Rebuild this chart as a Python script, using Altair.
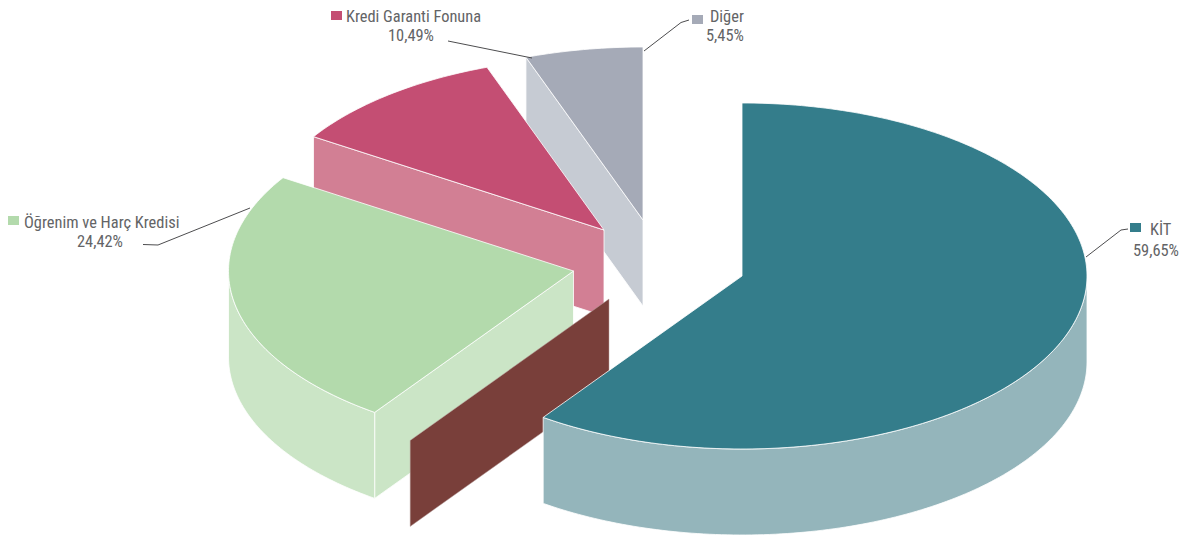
import math
import altair as alt
import pandas as pd

names = ["KİT", "Öğrenim ve Harç Kredisi", "Kredi Garanti Fonuna", "Diğer"]
labels = ["59,65%", "24,42%", "10,49%", "5,45%"]
shares = [59.65, 24.42, 10.49, 5.45]
top_colors = ["#347D8B", "#B3DAAC", "#C44E73", "#A5AAB7"]
wall_colors = ["#94B5BB", "#CBE5C6", "#D27F94", "#C6CBD3"]
cut_color = "#793F3A"
text_color = "#636466"
leader_color = "#4D4D4F"

# projected pie layout (ellipse radii, extrusion depth, slice apex positions)
RX, RY, DEPTH = 345, 173, 86
apex = [(742, 276), (573.5, 271), (604, 230), (643, 220)]
cut_offset = (-133, 23)
first_cut_tweak = 0.45
third_cut_tweak = -0.25

X = alt.Scale(domain=[8, 1182], range=[0, 1174], nice=False, zero=False)
Y = alt.Scale(domain=[8, 535], range=[0, 527], nice=False, zero=False)


def rim(i, a0, a1, dy=0):
    n = max(2, int(abs(a1 - a0)) + 1)
    cx, cy = apex[i]
    pts = []
    for k in range(n + 1):
        a = math.radians(a0 + (a1 - a0) * k / n)
        pts.append((cx + RX * math.sin(a), cy - RY * math.cos(a) + dy))
    return pts


def shape(pts, fill, stroke="white", sw=0.8):
    pts = list(pts) + [pts[0]]
    df = pd.DataFrame({"x": [p[0] for p in pts], "y": [p[1] for p in pts], "o": range(len(pts))})
    return alt.Chart(df).mark_line(fill=fill, stroke=stroke, strokeWidth=sw, strokeJoin="round").encode(
        x=alt.X("x:Q", scale=X, axis=None),
        y=alt.Y("y:Q", scale=Y, axis=None),
        order="o:Q",
    )


def polyline(pts):
    df = pd.DataFrame({"x": [p[0] for p in pts], "y": [p[1] for p in pts], "o": range(len(pts))})
    return alt.Chart(df).mark_line(stroke=leader_color, strokeWidth=1).encode(
        x=alt.X("x:Q", scale=X, axis=None),
        y=alt.Y("y:Q", scale=Y, axis=None),
        order="o:Q",
    )


starts, a = [], 0.0
for s in shares:
    starts.append(a)
    a += 360 * s / 100
starts[1] += first_cut_tweak
starts[3] += third_cut_tweak
ends = starts[1:] + [360.0]


def cut_face(i, angle, off=(0, 0)):
    cx, cy = apex[i]
    r = math.radians(angle)
    ex, ey = cx + RX * math.sin(r), cy - RY * math.cos(r)
    return [(cx + off[0], cy + off[1]), (ex + off[0], ey + off[1]),
            (ex + off[0], ey + off[1] + DEPTH), (cx + off[0], cy + off[1] + DEPTH)]


def top(i):
    return [apex[i]] + rim(i, starts[i], ends[i])


def wall(i, a0, a1):
    return rim(i, a0, a1) + rim(i, a1, a0, DEPTH)


layers = [
    # Diğer
    shape(cut_face(3, starts[3]), wall_colors[3]),
    shape(top(3), top_colors[3]),
    # Kredi Garanti Fonuna
    shape(cut_face(2, starts[2]), wall_colors[2]),
    shape(top(2), top_colors[2]),
    # Öğrenim ve Harç Kredisi
    shape(cut_face(1, starts[1]), wall_colors[1]),
    shape(wall(1, starts[1], 270), wall_colors[1]),
    shape(top(1), top_colors[1]),
    # displaced cut face of KİT
    shape(cut_face(0, ends[0], cut_offset), cut_color, stroke="#B9A09E", sw=0.5),
    # KİT
    shape(wall(0, 90, ends[0]), wall_colors[0]),
    shape(top(0), top_colors[0]),
    # leaders
    polyline([(1086, 257), (1121, 230), (1128, 229)]),
    polyline([(250, 208), (158, 245), (143, 244.5)]),
    polyline([(448, 41), (532, 58)]),
    polyline([(644, 51), (681, 22.5), (689, 20)]),
]

swatches = pd.DataFrame({
    "x": [1130, 8, 331, 692], "x2": [1141, 19, 342, 703],
    "y": [223, 216, 11, 15], "y2": [232, 225, 20, 24],
    "c": top_colors,
})
layers.append(alt.Chart(swatches).mark_rect().encode(
    x=alt.X("x:Q", scale=X, axis=None), x2="x2:Q",
    y=alt.Y("y:Q", scale=Y, axis=None), y2="y2:Q",
    color=alt.Color("c:N", scale=None),
))

texts = pd.DataFrame({
    "x": [1150, 1133, 24, 77, 346, 388, 710, 706],
    "y": [235, 256, 228, 247, 22, 41, 22, 41],
    "t": [names[0], labels[0], names[1], labels[1], names[2], labels[2], names[3], labels[3]],
})
layers.append(alt.Chart(texts).mark_text(
    align="left", baseline="alphabetic", font="Roboto Condensed, DejaVu Sans Condensed, Roboto", fontSize=16.4, color=text_color
).encode(
    x=alt.X("x:Q", scale=X, axis=None),
    y=alt.Y("y:Q", scale=Y, axis=None),
    text="t:N",
))

chart = alt.layer(*layers).properties(
    width=1174, height=527, padding=0, autosize="none", background="white"
).configure_view(stroke=None)

chart.save("out.html", embed_options={"renderer": "svg", "actions": False})
